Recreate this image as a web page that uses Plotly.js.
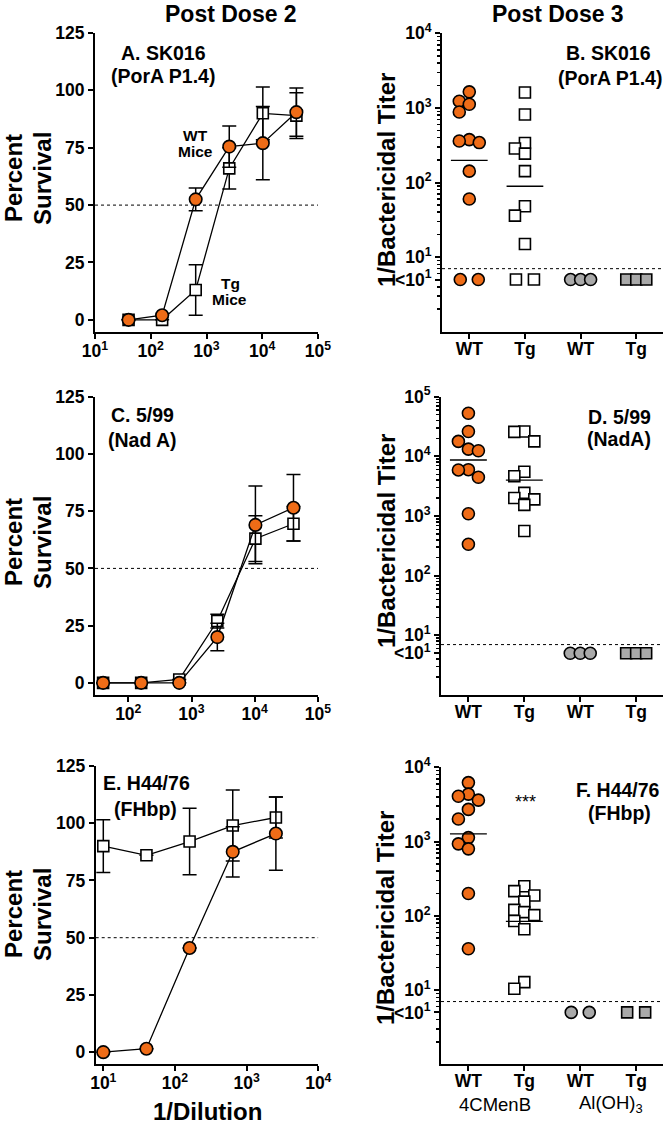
<!DOCTYPE html>
<html><head><meta charset="utf-8">
<script src="https://cdn.plot.ly/plotly-3.0.1.min.js"></script>
<style>html,body{margin:0;padding:0;background:#fff}#chart{width:666px;height:1125px}</style>
</head><body><div id="chart"></div>
<script>
// ================= DATA =================
// Post dose 2: percent survival vs 1/dilution (mean, SEM)
const dilutionsAC = [40, 160, 640, 2560, 10240, 40960];
const dilutionsE = [10, 40, 160, 640, 2560];
const survA_WT = [0, 2, 52.5, 75.5, 77, 90.5];
const survA_WT_err = [0, 0, 5, 9, 16, 10.5];
const survA_Tg = [0, 0, 13, 66, 90, 89];
const survA_Tg_err = [0, 0, 11, 9, 11.5, 10];
const survC_WT = [0, 0, 0, 20, 69, 76.5];
const survC_WT_err = [0, 0, 0, 6, 17, 14.5];
const survC_Tg = [0, 0, 1.5, 27, 63, 69.5];
const survC_Tg_err = [0, 0, 0, 3, 10, 7.5];
const survE_WT = [0, 1.5, 45.5, 87.5, 95.5];
const survE_WT_err = [0, 0, 0, 11, 16];
const survE_Tg = [90, 86, 92, 99, 102.5];
const survE_Tg_err = [11.5, 0, 14.5, 15.5, 9];

// Post dose 3: individual bactericidal titers (values <10 plotted at 5)
const groupLabels = ['WT', 'Tg', 'WT', 'Tg'];
const titerB_WT = [1640, 1230, 1120, 880, 376, 360, 343, 142, 60, 5, 5];
const titerB_Tg = [1610, 815, 339, 285, 244, 142, 48, 36, 15, 5, 5];
const titerB_AlWT = [5, 5, 5];
const titerB_AlTg = [5, 5, 5];
const gmtB = [198, 89];
const titerD_WT = [52700, 26100, 17800, 13200, 12400, 5980, 5920, 4470, 1090, 336];
const titerD_Tg = [26100, 25700, 17800, 5530, 4640, 2440, 2000, 1900, 1540, 562];
const titerD_AlWT = [5, 5, 5];
const titerD_AlTg = [5, 5, 5];
const gmtD = [8700, 4000];
const titerF_WT = [6220, 4350, 4080, 3610, 2710, 2010, 1130, 931, 798, 200, 36];
const titerF_Tg = [250, 215, 188, 155, 120, 112, 102, 85, 66, 12.8, 10.4];
const titerF_AlWT = [5, 5];
const titerF_AlTg = [5, 5];
const gmtF = [1270, 84];

const survTickVals = [0, 25, 50, 75, 100, 125];
const dilTickVals = [10, 100, 1000, 10000, 100000];
const dilTickText = ['10<sup>1</sup>', '10<sup>2</sup>', '10<sup>3</sup>', '10<sup>4</sup>', '10<sup>5</sup>'];
const titerTickVals = [5, 10, 100, 1000, 10000, 100000];
const titerTickText = ['<10<sup>1</sup>', '10<sup>1</sup>', '10<sup>2</sup>', '10<sup>3</sup>', '10<sup>4</sup>', '10<sup>5</sup>'];
const thresholdSurvival = 50;
const thresholdTiter = 7;

// ================= STYLE / LAYOUT =================
const W = 666, H = 1125;
const FONT = 'Liberation Sans, Arial, Helvetica, sans-serif';
const ORANGE = '#EF6C17', GRAY = '#A9A9A9';
const px = x => x / W, py = y => 1 - y / H;

const panels = {
  A: {xd: [95, 318], yd: [33, 332]},
  B: {xd: [442, 663], yd: [33.3, 331.7]},
  C: {xd: [95, 318], yd: [396.7, 695]},
  D: {xd: [441, 663], yd: [396.7, 695]},
  E: {xd: [95.7, 318.3], yd: [766, 1064.3]},
  F: {xd: [441, 663], yd: [767.3, 1064.3]}
};
const leftXRange = {A: [1, 5], C: [1.474, 5], E: [0.894, 4]};
const rightYRange = {B: [0, 4], D: [0, 5], F: [0, 4]};
const catRange = [-0.49, 3.48];
const survRange = [-5.3, 125];

const axisCommon = {
  showline: true, linecolor: '#000', linewidth: 2, mirror: false,
  ticks: 'outside', ticklen: 5, tickwidth: 2, tickcolor: '#000',
  showgrid: false, zeroline: false, fixedrange: true,
  tickfont: {family: FONT, size: 17.5, color: '#000', weight: 700}
};

const layout = {
  width: W, height: H, margin: {l: 0, r: 0, t: 0, b: 0},
  paper_bgcolor: '#fff', plot_bgcolor: 'rgba(0,0,0,0)', showlegend: false,
  annotations: [], shapes: []
};

const order = ['A', 'B', 'C', 'D', 'E', 'F'];
const axName = {};
order.forEach((k, i) => {
  const n = i + 1;
  axName[k] = {x: n === 1 ? 'x' : 'x' + n, y: n === 1 ? 'y' : 'y' + n,
               xl: n === 1 ? 'xaxis' : 'xaxis' + n, yl: n === 1 ? 'yaxis' : 'yaxis' + n};
  const p = panels[k];
  const xdom = [px(p.xd[0]), px(p.xd[1])];
  const ydom = [py(p.yd[1]), py(p.yd[0])];
  const left = ['A', 'C', 'E'].includes(k);
  if (left) {
    layout[axName[k].xl] = Object.assign({}, axisCommon, {
      type: 'log', range: leftXRange[k], domain: xdom, anchor: axName[k].y,
      tickmode: 'array', tickvals: dilTickVals, ticktext: dilTickText, ticklabelstandoff: -3
    });
    layout[axName[k].yl] = Object.assign({}, axisCommon, {
      range: survRange, domain: ydom, anchor: axName[k].x,
      tickmode: 'array', tickvals: survTickVals
    });
  } else {
    const yr = rightYRange[k];
    const minor = [];
    for (let e = yr[0]; e < yr[1]; e++) for (let m = 2; m <= 9; m++) {
      if (e === 0 && m === 5) continue;
      minor.push(m * Math.pow(10, e));
    }
    layout[axName[k].xl] = Object.assign({}, axisCommon, {
      range: catRange, domain: xdom, anchor: axName[k].y,
      tickmode: 'array', tickvals: [0, 1, 2, 3], ticktext: groupLabels, ticklabelstandoff: -5
    });
    layout[axName[k].yl] = Object.assign({}, axisCommon, {
      type: 'log', range: yr, domain: ydom, anchor: axName[k].x,
      tickmode: 'array', tickvals: titerTickVals, ticktext: titerTickText,
      minor: {tickmode: 'array', tickvals: minor, ticks: 'outside', ticklen: 3, tickwidth: 1.5, tickcolor: '#000', showgrid: false}
    });
  }
});

const traces = [];

// ----- left panels: survival curves -----
function curvePanel(k, dil, wt, wtErr, tg, tgErr) {
  const a = axName[k];
  const xr = leftXRange[k];
  traces.push({x: [Math.pow(10, xr[0]), Math.pow(10, xr[1])], y: [thresholdSurvival, thresholdSurvival],
    xaxis: a.x, yaxis: a.y, mode: 'lines', line: {color: '#000', width: 1, dash: 'dot'}, hoverinfo: 'skip'});
  traces.push({x: dil, y: tg, xaxis: a.x, yaxis: a.y, mode: 'lines+markers', cliponaxis: false,
    line: {color: '#000', width: 1.3},
    marker: {symbol: 'square', size: 11, color: '#fff', line: {color: '#000', width: 1.6}},
    error_y: {type: 'data', array: tgErr, visible: true, color: '#000', thickness: 1.5, width: 7}});
  traces.push({x: dil, y: wt, xaxis: a.x, yaxis: a.y, mode: 'lines+markers', cliponaxis: false,
    line: {color: '#000', width: 1.3},
    marker: {symbol: 'circle', size: 12.5, color: ORANGE, line: {color: '#000', width: 1.6}},
    error_y: {type: 'data', array: wtErr, visible: true, color: '#000', thickness: 1.5, width: 7}});
}
curvePanel('A', dilutionsAC, survA_WT, survA_WT_err, survA_Tg, survA_Tg_err);
curvePanel('C', dilutionsAC, survC_WT, survC_WT_err, survC_Tg, survC_Tg_err);
curvePanel('E', dilutionsE, survE_WT, survE_WT_err, survE_Tg, survE_Tg_err);

// ----- right panels: dot plots with a simple beeswarm spread -----
function swarmOffsets(vals, pxPerDecade, pxPerUnit) {
  const STEP = 10, THR = 10;
  const n = vals.length, off = new Array(n).fill(null);
  const ys = vals.map(v => Math.log10(v) * pxPerDecade);
  const placed = [];
  const counts = {};
  vals.forEach(v => counts[v] = (counts[v] || 0) + 1);
  Object.keys(counts).forEach(key => {
    const c = counts[key];
    if (c < 2) return;
    const sp = Math.min(18, 20 / (c - 1));
    let j = 0;
    vals.forEach((v, i) => {
      if (String(v) === key) { off[i] = (j - (c - 1) / 2) * sp; placed.push([off[i], ys[i]]); j++; }
    });
  });
  const idx = vals.map((v, i) => i).filter(i => off[i] === null).sort((a, b) => vals[b] - vals[a]);
  const cands = [0];
  for (let s = 1; s < 8; s++) cands.push(-s * STEP, s * STEP);
  idx.forEach(i => {
    for (const c of cands) {
      if (placed.every(p => Math.hypot(p[0] - c, p[1] - ys[i]) >= THR)) { off[i] = c; break; }
    }
    placed.push([off[i], ys[i]]);
  });
  return off.map(o => o / pxPerUnit);
}

function dotPanel(k, groups, gmt) {
  const a = axName[k], p = panels[k], yr = rightYRange[k];
  const pxPerDecade = (p.yd[1] - p.yd[0]) / (yr[1] - yr[0]);
  const pxPerUnit = (p.xd[1] - p.xd[0]) / (catRange[1] - catRange[0]);
  traces.push({x: catRange, y: [thresholdTiter, thresholdTiter], xaxis: a.x, yaxis: a.y, mode: 'lines',
    line: {color: '#000', width: 1, dash: 'dot'}, hoverinfo: 'skip'});
  const styles = [
    {symbol: 'circle', size: 12, color: ORANGE},
    {symbol: 'square', size: 11, color: '#fff'},
    {symbol: 'circle', size: 12, color: GRAY},
    {symbol: 'square', size: 11, color: GRAY}
  ];
  groups.forEach((vals, g) => {
    const offs = swarmOffsets(vals, pxPerDecade, pxPerUnit);
    traces.push({x: offs.map(o => g + o), y: vals, xaxis: a.x, yaxis: a.y, mode: 'markers', cliponaxis: false,
      marker: {symbol: styles[g].symbol, size: styles[g].size, color: styles[g].color, line: {color: '#000', width: 1.6}}});
  });
  gmt.forEach((v, g) => {
    traces.push({x: [g - 0.33, g + 0.33], y: [v, v], xaxis: a.x, yaxis: a.y, mode: 'lines',
      line: {color: '#000', width: 1.4}, hoverinfo: 'skip'});
  });
}
dotPanel('B', [titerB_WT, titerB_Tg, titerB_AlWT, titerB_AlTg], gmtB);
dotPanel('D', [titerD_WT, titerD_Tg, titerD_AlWT, titerD_AlTg], gmtD);
dotPanel('F', [titerF_WT, titerF_Tg, titerF_AlWT, titerF_AlTg], gmtF);

// ----- text -----
function note(text, x, y, size, opts) {
  layout.annotations.push(Object.assign({
    text: text, x: px(x), y: py(y), xref: 'paper', yref: 'paper', showarrow: false,
    xanchor: 'center', yanchor: 'middle',
    font: {family: FONT, size: size, color: '#000', weight: 700}
  }, opts || {}));
}
note('Post Dose 2', 231, 14, 23);
note('Post Dose 3', 557.5, 14, 23);
note('A. SK016', 163, 53, 19.5);
note('(PorA P1.4)', 163, 76, 19.5);
note('B. SK016', 608, 53, 19.5);
note('(PorA P1.4)', 610, 78, 19.5);
note('C. 5/99', 142, 415, 19.5);
note('(Nad A)', 142, 440, 19.5);
note('D. 5/99', 619, 417, 19.5);
note('(NadA)', 619, 439, 19.5);
note('E. H44/76', 146.7, 783, 19.5);
note('(FHbp)', 145, 809, 19.5);
note('F. H44/76', 618, 790, 19.5);
note('(FHbp)', 619, 813, 19.5);
note('WT', 195, 135, 15.5);
note('Mice', 196, 152, 15.5);
note('Tg', 230, 283, 15.5);
note('Mice', 229, 300, 15.5);
[178, 542, 914].forEach(cy => {
  note('Percent', 13, cy, 24, {textangle: -90});
  note('Survival', 42, cy, 24, {textangle: -90});
});
[180, 541, 918].forEach(cy => note('1/Bactericidal Titer', 386, cy, 24, {textangle: -90}));
note('1/Dilution', 207, 1111, 24);
note('***', 525, 802, 18, {font: {family: FONT, size: 18, color: '#000'}});
note('4CMenB', 495, 1104, 18.5, {font: {family: FONT, size: 18.5, color: '#000'}});
note('Al(OH)<sub>3</sub>', 611, 1104, 18.5, {font: {family: FONT, size: 18.5, color: '#000'}});

Plotly.newPlot('chart', traces, layout, {staticPlot: true, displayModeBar: false});
</script>
</body></html>
